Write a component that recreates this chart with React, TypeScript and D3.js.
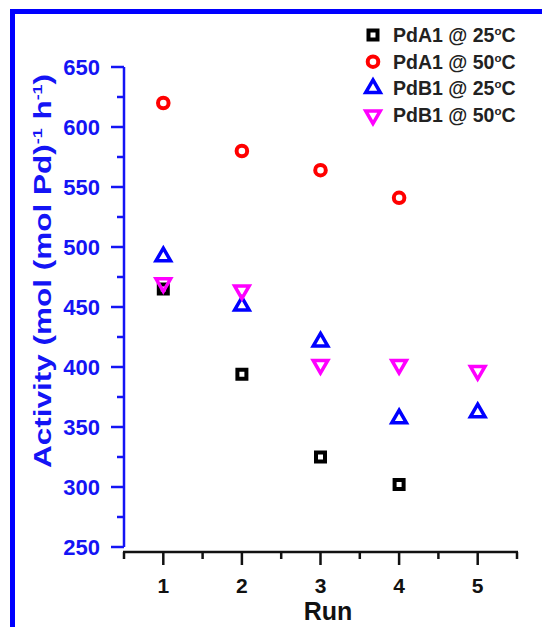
import React from "react";
import * as d3 from "d3";

const runs = [1, 2, 3, 4, 5];
const pdA1_25 = [465, 394, 325, 302];
const pdA1_50 = [620, 580, 564, 541];
const pdB1_25 = [492, 451, 421, 357, 362];
const pdB1_50 = [470, 464, 402, 402, 397];
const yTicks = [250, 300, 350, 400, 450, 500, 550, 600, 650];
const yMinor = [275, 325, 375, 425, 475, 525, 575, 625];
const xMinor = [0.5, 1.5, 2.5, 3.5, 4.5, 5.5];
const legendLabels = ["PdA1 @ 25", "PdA1 @ 50", "PdB1 @ 25", "PdB1 @ 50"];

const W = 542;
const H = 627;
const BLUE = "#1414f5";
const FONT = "'Liberation Sans', Arial, sans-serif";

type Kind = "square" | "circle" | "up" | "down";

function symbolPath(kind: Kind): string {
  if (kind === "square") return d3.symbol(d3.symbolSquare, 81)()!;
  if (kind === "circle") return d3.symbol(d3.symbolCircle, 88)()!;
  return d3.symbol(d3.symbolTriangle, 92)()!;
}

function Marker({ kind, x, y, color }: { kind: Kind; x: number; y: number; color: string }) {
  const rot = kind === "down" ? " rotate(180)" : "";
  const sw = kind === "up" || kind === "down" ? 3.5 : 4;
  return (
    <path
      d={symbolPath(kind)}
      transform={`translate(${x},${y})${rot}`}
      fill="none"
      stroke={color}
      strokeWidth={sw}
      strokeLinejoin="miter"
    />
  );
}

const series: { name: string; values: number[]; kind: Kind; color: string }[] = [
  { name: legendLabels[0], values: pdA1_25, kind: "square", color: "#000000" },
  { name: legendLabels[1], values: pdA1_50, kind: "circle", color: "#ff0000" },
  { name: legendLabels[2], values: pdB1_25, kind: "up", color: "#0000ff" },
  { name: legendLabels[3], values: pdB1_50, kind: "down", color: "#ff00ff" },
];

export default function App() {
  const x = d3.scaleLinear().domain([0.5, 5.5]).range([124, 517]);
  const y = d3.scaleLinear().domain([250, 650]).range([547, 67]);
  const axisY = 552;
  const axisX = 124;

  return (
    <svg
      width={W}
      height={H}
      style={{ position: "absolute", left: 0, top: 0, background: "#fff" }}
      fontFamily={FONT}
    >
      <rect x={0} y={0} width={W} height={H} fill="#fff" />
      {/* frame border (top & left) */}
      <rect x={10} y={9} width={W - 10} height={5} fill="#0000ff" />
      <rect x={10} y={9} width={5} height={H - 9} fill="#0000ff" />

      {/* Y axis */}
      <line x1={axisX} x2={axisX} y1={y(650)} y2={y(250)} stroke={BLUE} strokeWidth={2.5} />
      {yTicks.map((t) => (
        <g key={"yt" + t}>
          <line x1={axisX - 13} x2={axisX} y1={y(t)} y2={y(t)} stroke={BLUE} strokeWidth={2.5} />
          <text
            x={100}
            y={y(t)}
            dy="0.36em"
            textAnchor="end"
            fontSize={22}
            fontWeight="bold"
            fill={BLUE}
          >
            {t}
          </text>
        </g>
      ))}
      {yMinor.map((t) => (
        <line key={"ym" + t} x1={axisX - 7} x2={axisX} y1={y(t)} y2={y(t)} stroke={BLUE} strokeWidth={2.5} />
      ))}
      <text
        transform={`translate(51,${271}) rotate(-90) scale(1.37,1)`}
        textAnchor="middle"
        fontSize={23}
        fontWeight="bold"
        fill={BLUE}
      >
        Activity (mol (mol Pd)
        <tspan fontSize={13} dy={-9}>-1</tspan>
        <tspan dy={9}> h</tspan>
        <tspan fontSize={13} dy={-9}>-1</tspan>
        <tspan dy={9}>)</tspan>
      </text>

      {/* X axis */}
      <line x1={x(0.5) - 1} x2={x(5.5) + 1} y1={axisY} y2={axisY} stroke="#111" strokeWidth={2.5} />
      {runs.map((r) => (
        <g key={"xt" + r}>
          <line x1={x(r)} x2={x(r)} y1={axisY} y2={axisY + 13} stroke="#111" strokeWidth={2.5} />
          <text x={x(r)} y={593} textAnchor="middle" fontSize={21} fontWeight="bold" fill="#111">
            {r}
          </text>
        </g>
      ))}
      {xMinor.map((r) => (
        <line key={"xm" + r} x1={x(r)} x2={x(r)} y1={axisY} y2={axisY + 7} stroke="#111" strokeWidth={2.5} />
      ))}
      <text x={328} y={620} textAnchor="middle" fontSize={25} fontWeight="bold" fill="#111">
        Run
      </text>

      {/* data */}
      {series.map((s) =>
        s.values.map((v, i) => (
          <Marker key={s.name + i} kind={s.kind} x={x(runs[i])} y={y(v)} color={s.color} />
        ))
      )}

      {/* legend */}
      {series.map((s, i) => {
        const cy = 35 + i * 26.7;
        return (
          <g key={"lg" + i}>
            <Marker kind={s.kind} x={373} y={cy} color={s.color} />
            <text x={393} y={cy} dy="0.36em" fontSize={19.5} fontWeight="bold" fill="#222">
              {s.name}
              <tspan fontSize={11.5} dy={-7}>o</tspan>
              <tspan dy={7}>C</tspan>
            </text>
          </g>
        );
      })}
    </svg>
  );
}
